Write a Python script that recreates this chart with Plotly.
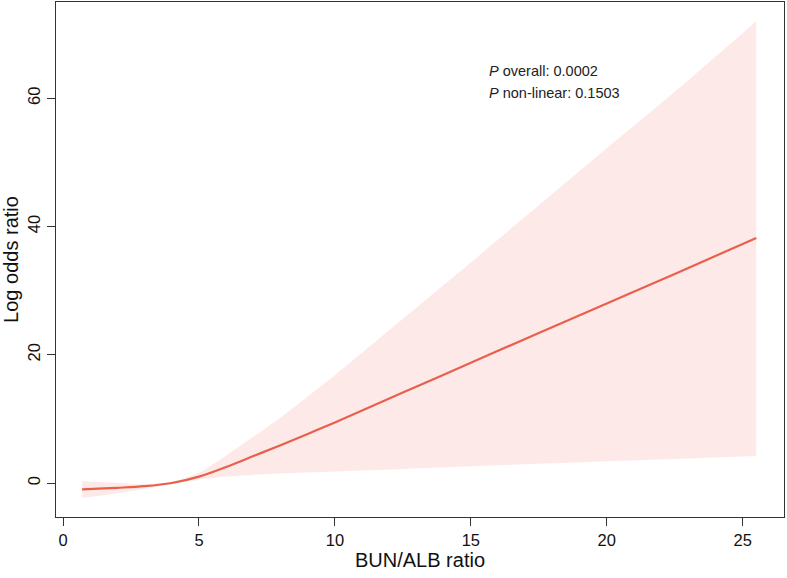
import plotly.graph_objects as go

# Data
bun_alb = [0.7, 1.5, 2.0, 3.0, 4.0, 5.0, 6.0, 7.0, 8.0, 9.0, 10.0, 12.5, 15.0, 17.5, 20.0, 22.5, 25.5]
log_or = [-1.0, -0.85, -0.75, -0.5, 0.0, 1.0, 2.5, 4.2, 5.9, 7.65, 9.45, 14.1, 18.75, 23.4, 28.0, 32.6, 38.2]
ci_upper = [0.3, 0.1, 0.0, -0.2, 0.2, 1.6, 4.3, 7.2, 10.2, 13.5, 16.8, 25.6, 34.4, 43.3, 52.2, 61.0, 72.0]
ci_lower = [-2.3, -1.9, -1.6, -0.9, -0.2, 0.5, 1.0, 1.3, 1.5, 1.65, 1.8, 2.2, 2.6, 3.0, 3.4, 3.75, 4.2]

x_ticks = [0, 5, 10, 15, 20, 25]
y_ticks = [0, 20, 40, 60]

line_color = "#E8604C"
band_color = "#FDEAE8"
font = "Liberation Sans, Arial, sans-serif"

fig = go.Figure()
fig.add_trace(go.Scatter(x=bun_alb, y=ci_lower, mode="lines", line=dict(width=0, color=band_color, shape="spline", smoothing=0.8),
                         hoverinfo="skip", showlegend=False))
fig.add_trace(go.Scatter(x=bun_alb, y=ci_upper, mode="lines", line=dict(width=0, color=band_color, shape="spline", smoothing=0.8),
                         fill="tonexty", fillcolor=band_color, hoverinfo="skip", showlegend=False))
fig.add_trace(go.Scatter(x=bun_alb, y=log_or, mode="lines", line=dict(width=2.2, color=line_color, shape="spline", smoothing=1.0),
                         showlegend=False))

fig.add_annotation(x=15.58, y=64.2, xref="x", yref="y", xanchor="left", yanchor="middle",
                   text="<i>P</i> overall: 0.0002", showarrow=False,
                   font=dict(family=font, size=14.5, color="#222222"))
fig.add_annotation(x=15.58, y=60.8, xref="x", yref="y", xanchor="left", yanchor="middle",
                   text="<i>P</i> non-linear: 0.1503", showarrow=False,
                   font=dict(family=font, size=14.5, color="#222222"))

axis_common = dict(showgrid=False, zeroline=False, showline=True, mirror=True, linecolor="#333333", linewidth=1.3,
                   ticks="outside", ticklen=8, tickwidth=1.3, tickcolor="#333333",
                   tickfont=dict(family=font, size=16.5, color="#111111"))

fig.update_layout(
    width=787, height=578,
    margin=dict(l=56, r=3, t=2, b=61),
    paper_bgcolor="white", plot_bgcolor="white",
    xaxis=dict(range=[-0.26, 26.52], tickvals=x_ticks,
               title=dict(text="BUN/ALB ratio", font=dict(family=font, size=20, color="#111111"), standoff=4),
               **axis_common),
    yaxis=dict(range=[-5.3, 75.0], tickvals=y_ticks, tickangle=-90,
               title=dict(text="Log odds ratio", font=dict(family=font, size=20, color="#111111"), standoff=6),
               **axis_common),
)

fig.write_html("out.html")
